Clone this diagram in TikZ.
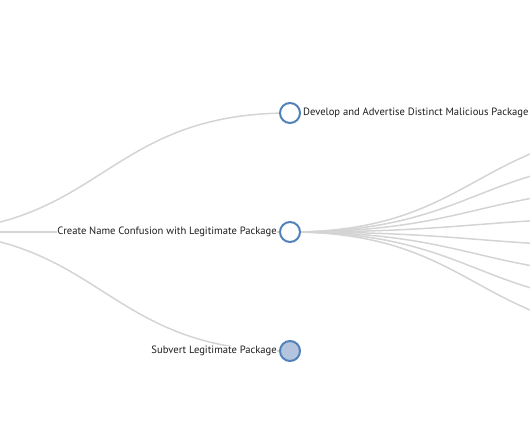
\documentclass[tikz,border=0pt]{standalone}
\usepackage{fontspec}
\setmainfont{PT Sans}
\usepackage{tikz}
\usetikzlibrary{positioning, backgrounds}
\definecolor{steelblue}{RGB}{80,130,185}
\definecolor{lightsteelblue}{RGB}{180,196,222}
\definecolor{linkgray}{RGB}{212,212,212}
\definecolor{labelgray}{RGB}{30,30,30}

\begin{document}
\begin{tikzpicture}[x=1pt, y=-1pt,
  link/.style={draw=linkgray, line width=1.5pt},
  leaf/.style={circle, draw=steelblue, line width=2pt, fill=white,
               minimum size=20pt, inner sep=0pt},
  folded/.style={leaf, fill=lightsteelblue},
  lbl/.style={font=\fontsize{10.6}{13}\selectfont, text=labelgray,
              fill=white, inner sep=0.5pt},
]
\useasboundingbox (0,0) rectangle (530,442);
\clip (0,0) rectangle (530,442);

% Root sits left of the frame, grandchildren right of it
\coordinate (root) at (-84,232);
\node[leaf] (dev) at (290,113) {};
\node[leaf] (conf) at (290,232) {};
\node[folded] (subv) at (290,351) {};

\coordinate (g1) at (664,129.4);
\coordinate (g2) at (664,158.7);
\coordinate (g3) at (664,188.0);
\coordinate (g4) at (664,217.4);
\coordinate (g5) at (664,246.7);
\coordinate (g6) at (664,276.0);
\coordinate (g7) at (664,305.3);
\coordinate (g8) at (664,334.6);

% Labels
\node[lbl, anchor=west] (devlbl) at ([xshift=1.5pt]dev.east)
     {Develop and Advertise Distinct Malicious Package};
\node[lbl, left=1.5pt of conf] (conflbl)
     {Create Name Confusion with Legitimate Package};
\node[lbl, left=1.5pt of subv] (subvlbl) {Subvert Legitimate Package};

% Links
\begin{scope}[on background layer]
\draw[link] (root) .. controls +(187,0) and +(-187,0) .. (dev.center);
\draw[link] (root) .. controls +(187,0) and +(-187,0) .. (conf.center);
\draw[link] (root) .. controls +(187,0) and +(-187,0) .. (subv.center);

\draw[link] (conf.center) .. controls +(187,0) and +(-187,0) .. (g1);
\draw[link] (conf.center) .. controls +(187,0) and +(-187,0) .. (g2);
\draw[link] (conf.center) .. controls +(187,0) and +(-187,0) .. (g3);
\draw[link] (conf.center) .. controls +(187,0) and +(-187,0) .. (g4);
\draw[link] (conf.center) .. controls +(187,0) and +(-187,0) .. (g5);
\draw[link] (conf.center) .. controls +(187,0) and +(-187,0) .. (g6);
\draw[link] (conf.center) .. controls +(187,0) and +(-187,0) .. (g7);
\draw[link] (conf.center) .. controls +(187,0) and +(-187,0) .. (g8);
\end{scope}

\end{tikzpicture}
\end{document}
